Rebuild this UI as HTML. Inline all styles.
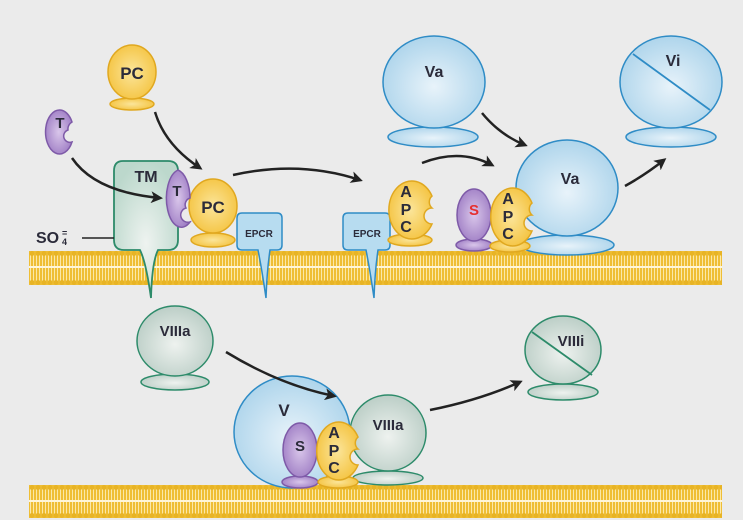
<!DOCTYPE html>
<html><head><meta charset="utf-8"><style>
html,body{margin:0;padding:0;background:#ebebeb;}
svg{display:block;}
text{font-family:"Liberation Sans",sans-serif;font-weight:bold;fill:#2b2b3a;}
</style></head><body>
<svg width="743" height="520" viewBox="0 0 743 520" xmlns="http://www.w3.org/2000/svg">
<defs>
<radialGradient id="gb" cx="0.5" cy="0.55" r="0.6"><stop offset="0" stop-color="#e8f3fa"/><stop offset="1" stop-color="#a9d2ea"/></radialGradient>
<radialGradient id="gg" cx="0.5" cy="0.55" r="0.6"><stop offset="0" stop-color="#eef2ef"/><stop offset="1" stop-color="#b7cbc3"/></radialGradient>
<radialGradient id="gy" cx="0.5" cy="0.5" r="0.6"><stop offset="0" stop-color="#fbe59a"/><stop offset="1" stop-color="#f4c13a"/></radialGradient>
<radialGradient id="gp" cx="0.5" cy="0.5" r="0.6"><stop offset="0" stop-color="#d9c6ea"/><stop offset="1" stop-color="#9b79c2"/></radialGradient>
<radialGradient id="gt" cx="0.5" cy="0.6" r="0.6"><stop offset="0" stop-color="#eef3f0"/><stop offset="1" stop-color="#bcd8cc"/></radialGradient>
<pattern id="mem1" x="29" y="251" width="6" height="34" patternUnits="userSpaceOnUse">
<rect width="6" height="34" fill="#efbe35"/>
<rect x="1" y="4" width="1" height="26" fill="#fbe8a8"/>
<rect x="4" y="4" width="1" height="26" fill="#fbe8a8"/>
<circle cx="3" cy="2.5" r="2.5" fill="#e8b425"/>
<circle cx="3" cy="31.5" r="2.5" fill="#e8b425"/>
</pattern>
<pattern id="mem2" x="29" y="485" width="6" height="33" patternUnits="userSpaceOnUse">
<rect width="6" height="33" fill="#efbe35"/>
<rect x="1" y="4" width="1" height="25" fill="#fbe8a8"/>
<rect x="4" y="4" width="1" height="25" fill="#fbe8a8"/>
<circle cx="3" cy="2.5" r="2.5" fill="#e8b425"/>
<circle cx="3" cy="30.5" r="2.5" fill="#e8b425"/>
</pattern>
<marker id="ah" markerWidth="12" markerHeight="12" refX="9" refY="6" orient="auto" markerUnits="userSpaceOnUse"><path d="M0,0 L12,6 L0,12 L3,6 Z" fill="#222"/></marker>
</defs>
<!-- membranes -->
<rect x="29" y="251" width="693" height="34" fill="url(#mem1)"/>
<rect x="29" y="266" width="693" height="2" fill="#fff6d8"/>
<rect x="29" y="485" width="693" height="33" fill="url(#mem2)"/>
<rect x="29" y="500" width="693" height="2" fill="#fff6d8"/>

<!-- top PC -->
<ellipse cx="132" cy="104" rx="22" ry="6" fill="url(#gy)" stroke="#e0a820" stroke-width="1.5"/>
<ellipse cx="132" cy="72" rx="24" ry="27" fill="url(#gy)" stroke="#e0a820" stroke-width="1.5"/>
<text x="132" y="79" font-size="17" text-anchor="middle">PC</text>
<!-- top T -->
<path d="M60,110 A14,22 0 1,0 72,142 A6,6 0 0,1 68,130 A8,8 0 0,1 72,122 A14,22 0 0,0 60,110 Z" fill="url(#gp)" stroke="#7e5aa8" stroke-width="1.5"/>
<text x="60" y="128" font-size="15" text-anchor="middle">T</text>

<!-- TM -->
<path d="M123,161 H168 Q178,161 178,171 V240 Q178,250 168,250 H158 Q152,262 151,298 Q146,262 140,250 H124 Q114,250 114,240 V171 Q114,161 123,161 Z" fill="url(#gt)" stroke="#2d8b6a" stroke-width="1.8"/>
<text x="146" y="182" font-size="16" text-anchor="middle">TM</text>
<text x="36" y="243" font-size="16" font-weight="normal">SO</text>
<text x="62" y="236" font-size="9">=</text>
<text x="62" y="245" font-size="9">4</text>
<line x1="82" y1="238" x2="114" y2="238" stroke="#222" stroke-width="1.5"/>

<!-- EPCR1 -->
<path d="M242,213 H277 Q282,213 282,218 V245 Q282,250 277,250 H270 Q267,270 266,298 Q262,270 258,250 H242 Q237,250 237,245 V218 Q237,213 242,213 Z" fill="#b7dcf0" stroke="#2f8cc6" stroke-width="1.5"/>
<text x="259" y="237" font-size="10" font-weight="normal" text-anchor="middle">EPCR</text>
<!-- PC on membrane -->
<ellipse cx="213" cy="240" rx="22" ry="7" fill="url(#gy)" stroke="#e0a820" stroke-width="1.5"/>
<ellipse cx="213" cy="206" rx="24" ry="27" fill="url(#gy)" stroke="#e0a820" stroke-width="1.5"/>
<text x="213" y="213" font-size="17" text-anchor="middle">PC</text>
<!-- T on TM -->
<path d="M178,170 A15,29 0 1,0 190,222 A6,6 0 0,1 186,208 A7,7 0 0,1 190,198 A15,29 0 0,0 178,170 Z" fill="url(#gp)" stroke="#7e5aa8" stroke-width="1.5"/>
<text x="177" y="196" font-size="15" text-anchor="middle">T</text>

<!-- EPCR2 -->
<path d="M348,213 H385 Q390,213 390,218 V245 Q390,250 385,250 H378 Q375,270 374,298 Q370,270 366,250 H348 Q343,250 343,245 V218 Q343,213 348,213 Z" fill="#b7dcf0" stroke="#2f8cc6" stroke-width="1.5"/>
<text x="367" y="237" font-size="10" font-weight="normal" text-anchor="middle">EPCR</text>
<!-- APC1 -->
<ellipse cx="410" cy="240" rx="22" ry="6" fill="url(#gy)" stroke="#e0a820" stroke-width="1.5"/>
<path d="M432,196 A23,29 0 1,0 432,224 A8,8 0 0,1 432,208 A8,8 0 0,1 432,196 Z" fill="url(#gy)" stroke="#e0a820" stroke-width="1.5"/>
<text x="406" y="197" font-size="16" text-anchor="middle">A</text>
<text x="406" y="215" font-size="16" text-anchor="middle">P</text>
<text x="406" y="232" font-size="16" text-anchor="middle">C</text>

<!-- Va on membrane -->
<ellipse cx="567" cy="245" rx="47" ry="10" fill="url(#gb)" stroke="#2f8cc6" stroke-width="1.5"/>
<ellipse cx="567" cy="188" rx="51" ry="48" fill="url(#gb)" stroke="#2f8cc6" stroke-width="1.5"/>
<text x="570" y="184" font-size="16" text-anchor="middle">Va</text>
<!-- S -->
<ellipse cx="474" cy="245" rx="18" ry="6" fill="url(#gp)" stroke="#7e5aa8" stroke-width="1.5"/>
<ellipse cx="474" cy="215" rx="17" ry="26" fill="url(#gp)" stroke="#7e5aa8" stroke-width="1.5"/>
<text x="474" y="215" font-size="15" text-anchor="middle" style="fill:#e53030">S</text>
<!-- APC2 -->
<ellipse cx="510" cy="246" rx="20" ry="6" fill="url(#gy)" stroke="#e0a820" stroke-width="1.5"/>
<path d="M532,203 A22,29 0 1,0 532,231 A8,8 0 0,1 532,215 A8,8 0 0,1 532,203 Z" fill="url(#gy)" stroke="#e0a820" stroke-width="1.5"/>
<text x="508" y="204" font-size="16" text-anchor="middle">A</text>
<text x="508" y="222" font-size="16" text-anchor="middle">P</text>
<text x="508" y="239" font-size="16" text-anchor="middle">C</text>

<!-- Va top -->
<ellipse cx="433" cy="137" rx="45" ry="10" fill="url(#gb)" stroke="#2f8cc6" stroke-width="1.5"/>
<ellipse cx="434" cy="82" rx="51" ry="46" fill="url(#gb)" stroke="#2f8cc6" stroke-width="1.5"/>
<text x="434" y="77" font-size="16" text-anchor="middle">Va</text>
<!-- Vi -->
<ellipse cx="671" cy="137" rx="45" ry="10" fill="url(#gb)" stroke="#2f8cc6" stroke-width="1.5"/>
<ellipse cx="671" cy="82" rx="51" ry="46" fill="url(#gb)" stroke="#2f8cc6" stroke-width="1.5"/>
<line x1="633" y1="54" x2="710" y2="110" stroke="#2f8cc6" stroke-width="1.8"/>
<text x="673" y="66" font-size="16" text-anchor="middle">Vi</text>

<!-- VIIIa top -->
<ellipse cx="175" cy="382" rx="34" ry="8" fill="url(#gg)" stroke="#2d8b6a" stroke-width="1.5"/>
<ellipse cx="175" cy="341" rx="38" ry="35" fill="url(#gg)" stroke="#2d8b6a" stroke-width="1.5"/>
<text x="175" y="336" font-size="15" text-anchor="middle">VIIIa</text>
<!-- VIIIi -->
<ellipse cx="563" cy="392" rx="35" ry="8" fill="url(#gg)" stroke="#2d8b6a" stroke-width="1.5"/>
<ellipse cx="563" cy="350" rx="38" ry="34" fill="url(#gg)" stroke="#2d8b6a" stroke-width="1.5"/>
<line x1="532" y1="332" x2="592" y2="375" stroke="#2d8b6a" stroke-width="1.8"/>
<text x="571" y="346" font-size="15" text-anchor="middle">VIIIi</text>

<!-- bottom complex -->
<ellipse cx="292" cy="432" rx="58" ry="56" fill="url(#gb)" stroke="#2f8cc6" stroke-width="1.5"/>
<text x="284" y="416" font-size="17" text-anchor="middle">V</text>
<ellipse cx="388" cy="478" rx="35" ry="7" fill="url(#gg)" stroke="#2d8b6a" stroke-width="1.5"/>
<ellipse cx="388" cy="433" rx="38" ry="38" fill="url(#gg)" stroke="#2d8b6a" stroke-width="1.5"/>
<text x="388" y="430" font-size="15" text-anchor="middle">VIIIa</text>
<ellipse cx="300" cy="482" rx="18" ry="6" fill="url(#gp)" stroke="#7e5aa8" stroke-width="1.5"/>
<ellipse cx="300" cy="450" rx="17" ry="27" fill="url(#gp)" stroke="#7e5aa8" stroke-width="1.5"/>
<text x="300" y="451" font-size="15" text-anchor="middle">S</text>
<ellipse cx="338" cy="482" rx="20" ry="6" fill="url(#gy)" stroke="#e0a820" stroke-width="1.5"/>
<path d="M358,437 A22,29 0 1,0 358,465 A8,8 0 0,1 358,449 A8,8 0 0,1 358,437 Z" fill="url(#gy)" stroke="#e0a820" stroke-width="1.5"/>
<text x="334" y="438" font-size="16" text-anchor="middle">A</text>
<text x="334" y="456" font-size="16" text-anchor="middle">P</text>
<text x="334" y="473" font-size="16" text-anchor="middle">C</text>

<!-- arrows on top -->
<g fill="none" stroke="#222" stroke-width="2.5" marker-end="url(#ah)">
<path d="M72,158 Q95,192 160,198"/>
<path d="M155,112 Q165,145 200,168"/>
<path d="M233,175 Q300,160 360,180"/>
<path d="M422,163 Q460,148 492,165"/>
<path d="M482,113 Q500,135 525,145"/>
<path d="M625,186 Q645,175 664,160"/>
<path d="M226,352 Q280,385 334,396"/>
<path d="M430,410 Q480,400 520,382"/>
</g>
</svg>
</body></html>
